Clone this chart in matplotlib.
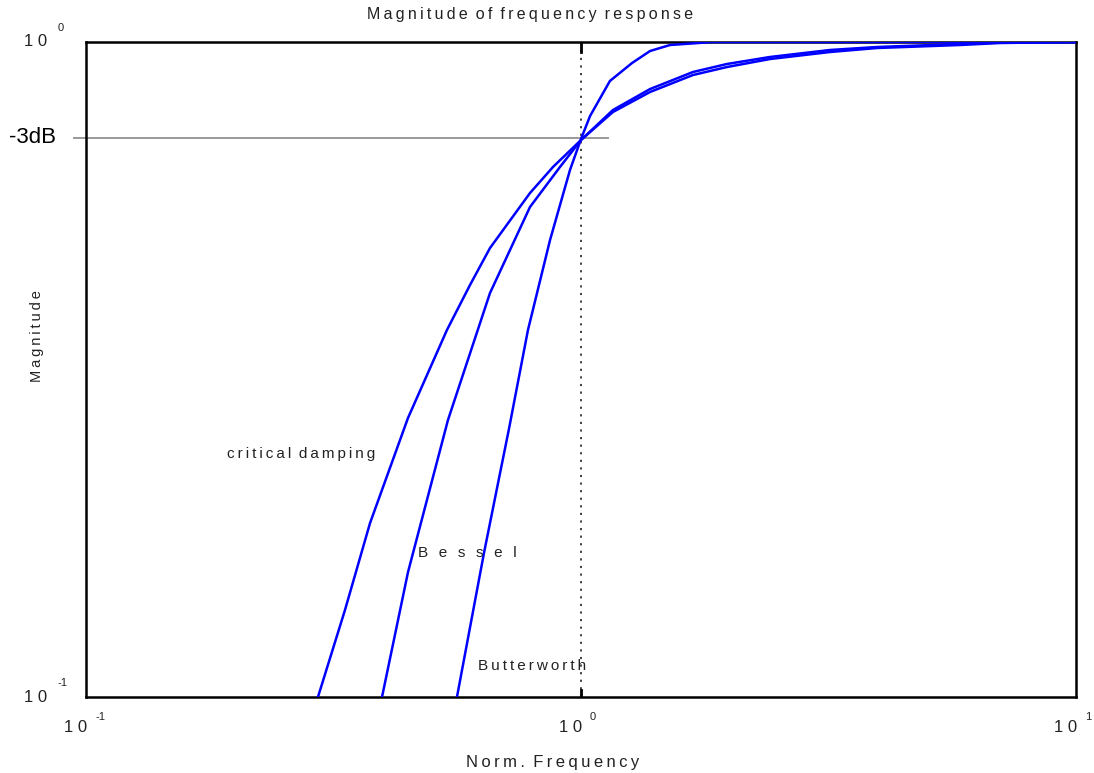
import matplotlib
matplotlib.use("Agg")
import matplotlib.pyplot as plt

plt.rcParams['font.family'] = ['Liberation Sans', 'DejaVu Sans']

# values (normalised frequency, magnitude)
crit_freq = [0.2942, 0.3336, 0.3748, 0.4472, 0.5361, 0.5967, 0.6549, 0.7888, 0.8780,
             1.0, 1.160, 1.379, 1.684, 1.972, 2.409, 3.184, 3.963, 5.832, 7.023, 10.0]
crit_mag = [0.1, 0.1358, 0.1843, 0.2667, 0.3634, 0.4256, 0.4847, 0.5881, 0.6445,
            0.7085, 0.7818, 0.8389, 0.8905, 0.9158, 0.9419, 0.9654, 0.9791, 0.9895, 0.9965, 1.0]

bessel_freq = [0.3963, 0.4472, 0.5386, 0.6549, 0.7888, 0.9069, 1.0, 1.160, 1.379,
               1.684, 1.972, 2.409, 3.184, 3.963, 5.832, 7.023, 10.0]
bessel_mag = [0.1, 0.1551, 0.2648, 0.4138, 0.5599, 0.6445, 0.7085, 0.7873, 0.8476,
              0.9000, 0.9256, 0.9487, 0.9723, 0.9826, 0.9930, 0.9982, 1.0]

butter_freq = [0.5616, 0.6368, 0.6863, 0.7152, 0.7814, 0.8658, 0.9501, 1.0, 1.043,
               1.144, 1.268, 1.379, 1.513, 1.848, 10.0]
butter_mag = [0.1, 0.1659, 0.2198, 0.2565, 0.3634, 0.4984, 0.6377, 0.7110, 0.7709,
              0.8720, 0.9288, 0.9689, 0.9895, 1.0, 1.0]

x_ticks = [0.1, 1.0, 10.0]
x_exps = ['-1', '0', '1']
y_ticks = [0.1, 1.0]
y_exps = ['-1', '0']
level_3db = 0.714

# where the curve names sit (freq, magnitude)
curve_names = ['critical damping', 'Bessel', 'Butterworth']
name_freq = [0.1927, 0.4686, 0.619]
name_mag = [0.235, 0.166, 0.1115]
name_gap = ['\u2009', '\u2002\u2009', '\u2009']

TXT = '#222222'


def spaced(s, gap='\u2009'):
    # letter-spaced look of the original plot program
    return gap.join(s)


def spaced_words(s, gap='\u2009'):
    return '\u2002'.join(spaced(w, gap) for w in s.split())


fig = plt.figure(figsize=(10.94, 7.73), dpi=100)
ax = fig.add_axes([86 / 1094, 76 / 773, 990 / 1094, 655 / 773])
ax.set_xscale('log')
ax.set_yscale('log')
ax.set_xlim(0.1, 10)
ax.set_ylim(0.1, 1)
ax.set_xticks([])
ax.set_yticks([])
ax.minorticks_off()
ax.tick_params(which='both', length=0, labelbottom=False, labelleft=False)
for sp in ax.spines.values():
    sp.set_linewidth(1.8)
    sp.set_color('black')

# reference lines
ax.plot([0.0946, 1.134], [level_3db, level_3db], color='#999999', lw=1.4, clip_on=False, zorder=2)
ax.axvline(1.0, color='#333333', lw=1.3, ls=(0, (1.2, 3.0)), zorder=2)
ax.plot([1.0, 1.0], [1.0, 0.965], color='black', lw=2.0, zorder=4)
ax.plot([1.0, 1.0], [0.1, 0.1025], color='black', lw=2.0, zorder=4)

for fx, fy in [(crit_freq, crit_mag), (bessel_freq, bessel_mag), (butter_freq, butter_mag)]:
    ax.plot(fx, fy, color='#0000ff', lw=1.8, zorder=3)

# tick labels drawn as "1 0" with a small exponent
for t, e in zip(x_ticks, x_exps):
    ax.annotate('1 0', xy=(t, 0), xycoords=('data', 'axes fraction'), xytext=(1, -31),
                textcoords='offset pixels', ha='right', va='center', fontsize=12, color=TXT)
    ax.annotate(e, xy=(t, 0), xycoords=('data', 'axes fraction'), xytext=(9, -20),
                textcoords='offset pixels', ha='left', va='center', fontsize=8, color=TXT)
for t, e in zip(y_ticks, y_exps):
    ax.annotate('1 0', xy=(0, t), xycoords=('axes fraction', 'data'), xytext=(-39, 0),
                textcoords='offset pixels', ha='right', va='center', fontsize=12, color=TXT)
    ax.annotate(e, xy=(0, t), xycoords=('axes fraction', 'data'), xytext=(-28, 14),
                textcoords='offset pixels', ha='left', va='center', fontsize=8, color=TXT)

ax.annotate('-3dB', xy=(0, level_3db), xycoords=('axes fraction', 'data'), xytext=(-30, 0),
            textcoords='offset pixels', ha='right', va='center', fontsize=16, color='black')

# curve labels
for name, fx, fy, gap in zip(curve_names, name_freq, name_mag, name_gap):
    ax.text(fx, fy, spaced_words(name, gap), fontsize=11, color=TXT, va='center', ha='left')

fig.text(530 / 1094, 1 - 14 / 773, spaced_words('Magnitude of frequency response'),
         ha='center', va='center', fontsize=11.5, color=TXT)
fig.text(553 / 1094, 1 - 762 / 773, spaced_words('Norm. Frequency'),
         ha='center', va='center', fontsize=12, color=TXT)
fig.text(37 / 1094, 1 - 336 / 773, spaced('Magnitude'), rotation=90,
         ha='center', va='center', fontsize=10.5, color=TXT)

fig.savefig('out.png', dpi=100)
